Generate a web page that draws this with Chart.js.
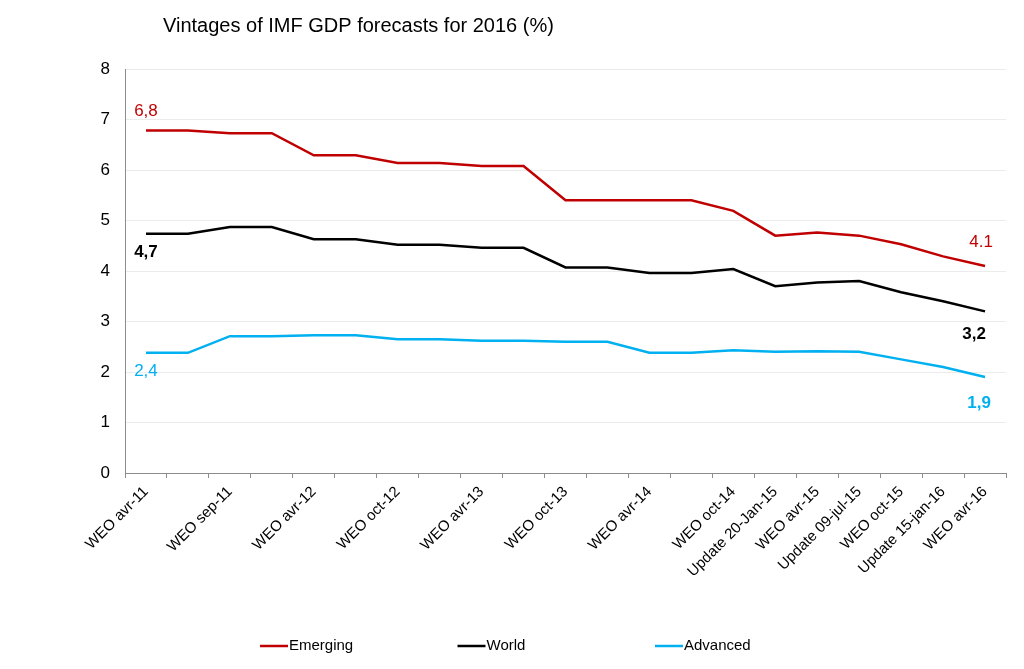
<!DOCTYPE html>
<html>
<head>
<meta charset="utf-8">
<script src="https://cdn.jsdelivr.net/npm/chart.js@4/dist/chart.umd.min.js"></script>
<style>
html,body{margin:0;padding:0;background:#fff;}
#wrap{width:1024px;height:669px;position:relative;}
</style>
</head>
<body>
<div id="wrap"><canvas id="c" width="1024" height="669"></canvas></div>
<script>
const categories = ["WEO avr-11","","WEO sep-11","","WEO avr-12","","WEO oct-12","","WEO avr-13","","WEO oct-13","","WEO avr-14","","WEO oct-14","Update 20-Jan-15","WEO avr-15","Update 09-jul-15","WEO oct-15","Update 15-jan-16","WEO avr-16"];
const emerging = [6.78,6.78,6.73,6.73,6.29,6.29,6.14,6.14,6.08,6.08,5.40,5.40,5.40,5.40,5.19,4.70,4.76,4.70,4.53,4.29,4.10];
const world    = [4.74,4.74,4.87,4.87,4.63,4.63,4.52,4.52,4.46,4.46,4.07,4.07,3.96,3.96,4.04,3.70,3.77,3.80,3.58,3.40,3.20];
const advanced = [2.38,2.38,2.71,2.71,2.73,2.73,2.65,2.65,2.62,2.62,2.60,2.60,2.38,2.38,2.43,2.40,2.41,2.40,2.25,2.10,1.90];
const seriesNames = ["Emerging","World","Advanced"];
const yTicks = [0,1,2,3,4,5,6,7,8];
const titleText = "Vintages of IMF GDP forecasts for 2016 (%)";
// end labels: [datasetIndex, pointIndex, text]
const endLabels = [[0,0,"6,8"],[1,0,"4,7"],[2,0,"2,4"],[0,20,"4.1"],[1,20,"3,2"],[2,20,"1,9"]];

const FONT = "'Liberation Sans', Arial, sans-serif";
const colors = ["#C00000","#000000","#00B0F0"];
// style per end label: dx, dy, bold
const labelStyle = [
  {dx:0, dy:-19, bold:false},
  {dx:0, dy:19, bold:true},
  {dx:0, dy:19, bold:false},
  {dx:-4, dy:-24, bold:false},
  {dx:-11, dy:23, bold:true},
  {dx:-6, dy:26, bold:true}
];

const decor = {
  id:'decor',
  afterDraw(chart){
    const ctx = chart.ctx;
    ctx.save();
    // title
    ctx.fillStyle = '#000';
    ctx.font = "20px " + FONT;
    ctx.textAlign = 'left';
    ctx.textBaseline = 'middle';
    ctx.fillText(titleText, 163, 26);
    // end labels
    endLabels.forEach((l, k) => {
      const pt = chart.getDatasetMeta(l[0]).data[l[1]];
      const st = labelStyle[k];
      ctx.font = (st.bold ? "bold " : "") + "17px " + FONT;
      ctx.fillStyle = colors[l[0]];
      ctx.textAlign = 'center';
      ctx.textBaseline = 'middle';
      ctx.fillText(l[2], pt.x + st.dx, pt.y + st.dy);
    });
    // legend
    ctx.font = "15px " + FONT;
    ctx.textBaseline = 'middle';
    ctx.textAlign = 'left';
    seriesNames.forEach((n, i) => {
      const x0 = 260 + i * 197.5;
      const y = 646;
      ctx.strokeStyle = colors[i];
      ctx.lineWidth = 2.5;
      ctx.beginPath();
      ctx.moveTo(x0, y);
      ctx.lineTo(x0 + 28, y);
      ctx.stroke();
      ctx.fillStyle = '#000';
      ctx.fillText(n, x0 + 29, y);
    });
    ctx.restore();
  }
};

const data = {
  labels: categories,
  datasets: [emerging, world, advanced].map((d, i) => ({
    label: seriesNames[i],
    data: d,
    borderColor: colors[i],
    backgroundColor: colors[i],
    borderWidth: 2.5,
    pointRadius: 0,
    tension: 0,
    fill: false
  }))
};

new Chart(document.getElementById('c'), {
  type: 'line',
  data,
  plugins: [decor],
  options: {
    responsive: false,
    animation: false,
    devicePixelRatio: 1,
    layout: { padding: { left: 0, right: 18, top: 69, bottom: 0 } },
    plugins: { legend: { display: false }, title: { display: false }, tooltip: { enabled: false } },
    scales: {
      x: {
        type: 'category',
        offset: true,
        grid: { offset: true, drawOnChartArea: false, drawTicks: true, tickLength: 5, color: '#8c8c8c' },
        border: { color: '#8c8c8c', width: 1 },
        ticks: { autoSkip: false, maxRotation: 45, minRotation: 45, padding: 5, color: '#000', font: { family: FONT, size: 15 } },
        afterFit(s){ s.height = 196; }
      },
      y: {
        min: 0, max: 8,
        afterBuildTicks(s){ s.ticks = yTicks.map(v => ({value: v})); },
        grid: { drawTicks: false, color: '#ececec', lineWidth: 1 },
        border: { color: '#8c8c8c', width: 1 },
        ticks: { padding: 15, color: '#000', font: { family: FONT, size: 17 } },
        afterFit(s){ s.width = 125; }
      }
    }
  }
});
</script>
</body>
</html>
